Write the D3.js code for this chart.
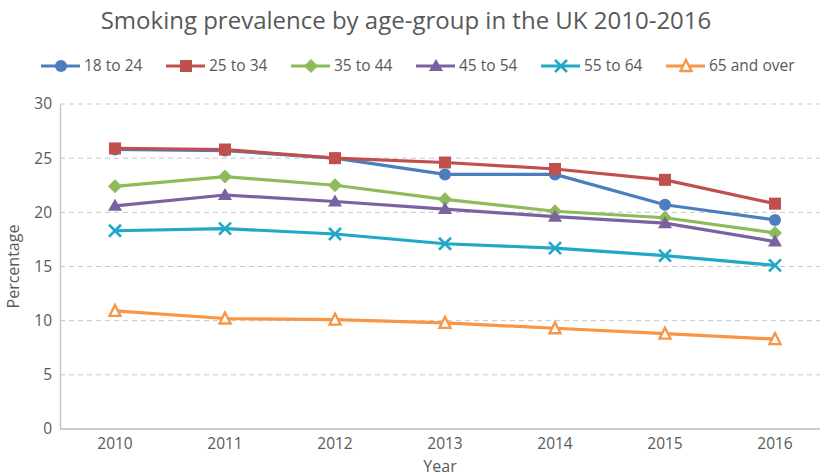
<!DOCTYPE html>
<html>
<head>
<meta charset="utf-8">
<script src="https://cdn.jsdelivr.net/npm/d3@7/dist/d3.min.js"></script>
<style>
  html, body { margin: 0; padding: 0; background: #fff; }
  text { font-family: "Open Sans", sans-serif; fill: #595959; }
</style>
</head>
<body>
<svg id="chart" width="825" height="476"></svg>
<script>
// Smoking prevalence (%) by age group, UK 2010-2016
const years = [2010, 2011, 2012, 2013, 2014, 2015, 2016];
const yTicks = [0, 5, 10, 15, 20, 25, 30];

const age18to24 = [25.8, 25.7, 25.0, 23.5, 23.5, 20.7, 19.3];
const age25to34 = [25.9, 25.8, 25.0, 24.6, 24.0, 23.0, 20.8];
const age35to44 = [22.4, 23.3, 22.5, 21.2, 20.1, 19.5, 18.1];
const age45to54 = [20.6, 21.6, 21.0, 20.3, 19.6, 19.0, 17.3];
const age55to64 = [18.3, 18.5, 18.0, 17.1, 16.7, 16.0, 15.1];
const age65over = [10.9, 10.2, 10.1, 9.8, 9.3, 8.8, 8.3];

const seriesNames = ["18 to 24", "25 to 34", "35 to 44", "45 to 54", "55 to 64", "65 and over"];
const seriesValues = [age18to24, age25to34, age35to44, age45to54, age55to64, age65over];

const colors = ["#4a7ebf", "#c0504d", "#8dbb5a", "#7a62a0", "#21a8c7", "#f79646"];
const markers = ["circle", "square", "diamond", "triangle", "cross", "openTriangle"];

const svg = d3.select("#chart");
const margin = { left: 60, right: 5, top: 104, bottom: 47 };
const W = 825, H = 476;

const x = d3.scaleBand().domain(years).range([margin.left, margin.left + 770]);
const y = d3.scaleLinear().domain([0, 30]).range([H - margin.bottom, margin.top]);
const xc = d => x(d) + x.bandwidth() / 2;

// Title
svg.append("text")
  .attr("x", 406).attr("y", 29)
  .attr("text-anchor", "middle")
  .style("font-size", "24px")
  .text("Smoking prevalence by age-group in the UK 2010-2016");

// Horizontal gridlines
svg.append("g").selectAll("line")
  .data(yTicks.filter(t => t > 0))
  .join("line")
  .attr("x1", margin.left).attr("x2", 820)
  .attr("y1", d => y(d)).attr("y2", d => y(d))
  .attr("stroke", "#c6c6c6").attr("stroke-width", 1)
  .attr("stroke-dasharray", "5,4");

// Y axis
const yAxis = svg.append("g")
  .attr("transform", `translate(${margin.left},0)`)
  .call(d3.axisLeft(y).tickValues(yTicks).tickSize(0).tickPadding(8));
yAxis.select(".domain").attr("stroke", "#bfbfbf").attr("stroke-width", 1.3);
yAxis.selectAll("text").style("font-size", "15.5px").attr("fill", "#595959")
  .style("font-family", "'Open Sans', sans-serif");

// X axis
const xAxis = svg.append("g")
  .attr("transform", `translate(0,${y(0)})`)
  .call(d3.axisBottom(x).tickSize(0).tickPadding(9));
xAxis.select(".domain").attr("d", `M${margin.left},0H820`).attr("stroke", "#bfbfbf").attr("stroke-width", 1.3);
xAxis.selectAll("text").style("font-size", "15.5px").attr("fill", "#595959")
  .style("font-family", "'Open Sans', sans-serif");

// Axis titles
svg.append("text")
  .attr("x", 440).attr("y", 472)
  .attr("text-anchor", "middle")
  .style("font-size", "16px")
  .text("Year");
svg.append("text")
  .attr("transform", `translate(19,${y(15)}) rotate(-90)`)
  .attr("text-anchor", "middle")
  .style("font-size", "16px")
  .text("Percentage");

// Marker drawing
function drawMarker(g, type, color) {
  switch (type) {
    case "circle":
      g.append("circle").attr("r", 6).attr("fill", color);
      break;
    case "square":
      g.append("rect").attr("x", -6).attr("y", -6).attr("width", 12).attr("height", 12).attr("fill", color);
      break;
    case "diamond":
      g.append("path").attr("d", "M0,-7L7,0L0,7L-7,0Z").attr("fill", color);
      break;
    case "triangle":
      g.append("path").attr("d", "M0,-7L7,5L-7,5Z").attr("fill", color);
      break;
    case "cross":
      g.append("path").attr("d", "M-6,-6L6,6M-6,6L6,-6")
        .attr("stroke", color).attr("stroke-width", 2.6).attr("fill", "none");
      break;
    case "openTriangle":
      g.append("path").attr("d", "M0,-6L5.5,5L-5.5,5Z")
        .attr("fill", "#fff").attr("stroke", color).attr("stroke-width", 2.4)
        .attr("stroke-linejoin", "miter");
      break;
  }
}

const line = d3.line().x((d, i) => xc(years[i])).y(d => y(d));

// Series lines and markers
seriesValues.forEach((vals, s) => {
  const g = svg.append("g");
  g.append("path")
    .datum(vals)
    .attr("d", line)
    .attr("fill", "none")
    .attr("stroke", colors[s])
    .attr("stroke-width", 3.2)
    .attr("stroke-linejoin", "round")
    .attr("stroke-linecap", "round");
  vals.forEach((v, i) => {
    const m = g.append("g").attr("transform", `translate(${xc(years[i])},${y(v)})`);
    drawMarker(m, markers[s], colors[s]);
  });
});

// Legend
const legend = svg.append("g").attr("transform", "translate(41,66)");
seriesNames.forEach((name, s) => {
  const item = legend.append("g").attr("transform", `translate(${s * 125},0)`);
  item.append("line")
    .attr("x1", 0).attr("x2", 39).attr("y1", 0).attr("y2", 0)
    .attr("stroke", colors[s]).attr("stroke-width", 3.2);
  const m = item.append("g").attr("transform", "translate(20,0)");
  drawMarker(m, markers[s], colors[s]);
  item.append("text")
    .attr("x", 43).attr("y", 0).attr("dy", "0.35em")
    .style("font-size", "15.5px")
    .text(name);
});
</script>
</body>
</html>
